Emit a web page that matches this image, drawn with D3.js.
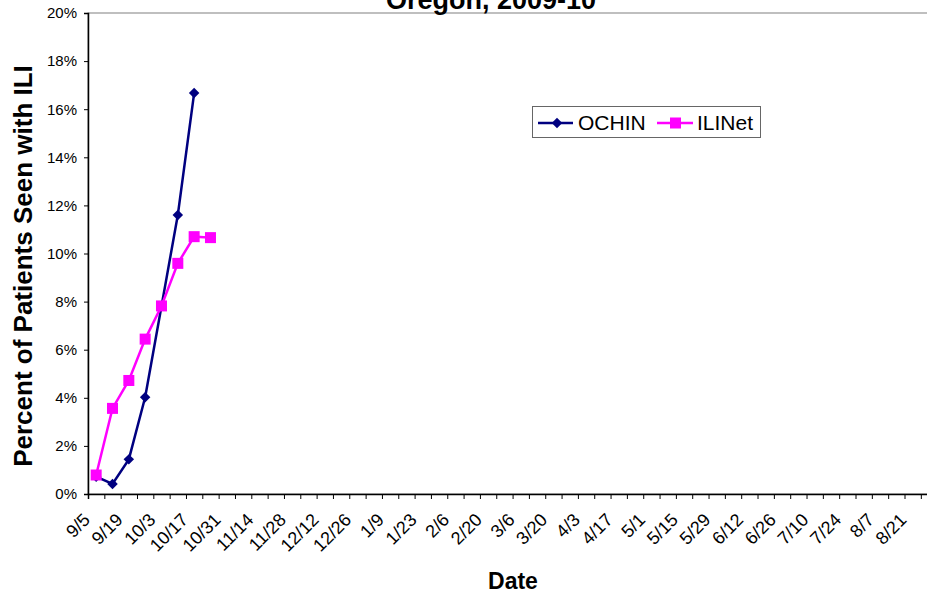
<html>
<head>
<style>
  body { margin: 0; background: #fff; }
  text { font-family: "Liberation Sans", Arial, sans-serif; }
</style>
</head>
<body>
<script src="https://d3js.org/d3.v7.min.js"></script>
<script>
// weekly categories, 2009-10 season
var weeks = ["9/5","9/12","9/19","9/26","10/3","10/10","10/17","10/24","10/31","11/7",
  "11/14","11/21","11/28","12/5","12/12","12/19","12/26","1/2","1/9","1/16",
  "1/23","1/30","2/6","2/13","2/20","2/27","3/6","3/13","3/20","3/27",
  "4/3","4/10","4/17","4/24","5/1","5/8","5/15","5/22","5/29","6/5",
  "6/12","6/19","6/26","7/3","7/10","7/17","7/24","7/31","8/7","8/14",
  "8/21","8/28"];
// percent of patients with ILI (fraction)
var ochin  = [0.0072, 0.0042, 0.0144, 0.0402, 0.0781, 0.1160, 0.1667];
var ilinet = [0.0079, 0.0356, 0.0472, 0.0644, 0.0782, 0.0959, 0.1070, 0.1066];
var yTicks = [0, 0.02, 0.04, 0.06, 0.08, 0.10, 0.12, 0.14, 0.16, 0.18, 0.20];

var w = 927, h = 597;
var plotLeft = 88, plotTop = 13, plotBottom = 494;
var bandW = 16.33;
var plotRight = plotLeft + bandW * weeks.length;

var svg = d3.select("body").append("svg")
  .attr("width", w).attr("height", h);

var x = d3.scaleBand().domain(weeks).range([plotLeft, plotRight]).padding(0);
var xTickPos = d3.scaleLinear().domain([0, weeks.length]).range([plotLeft, plotRight]);
var y = d3.scaleLinear().domain([0, 0.2]).range([plotBottom, plotTop]);

// plot frame
svg.append("rect")
  .attr("x", plotLeft).attr("y", plotTop)
  .attr("width", plotRight - plotLeft).attr("height", plotBottom - plotTop)
  .attr("fill", "none").attr("stroke", "#808080").attr("stroke-width", 1);

// y axis
var yAxis = svg.append("g")
  .attr("transform", "translate(" + plotLeft + ",0)")
  .call(d3.axisLeft(y).tickValues(yTicks).tickFormat(d3.format(".0%")).tickSize(4).tickPadding(7));
yAxis.select(".domain").attr("stroke", "#000").attr("stroke-width", 1.5);
yAxis.selectAll("text").style("font-size", "15px").attr("fill", "#000");

// x axis: ticks between categories
var xTicks = svg.append("g")
  .attr("transform", "translate(0," + plotBottom + ")")
  .call(d3.axisBottom(xTickPos).tickValues(d3.range(weeks.length + 1)).tickFormat("").tickSize(5));
xTicks.select(".domain").attr("stroke", "#000").attr("stroke-width", 1.5);

var xLabels = svg.append("g")
  .attr("transform", "translate(0," + plotBottom + ")")
  .attr("font-size", 18)
  .call(d3.axisBottom(x).tickValues(weeks.filter(function(d, i) { return i % 2 == 0; })).tickSize(0).tickPadding(0));
xLabels.select(".domain").remove();
xLabels.selectAll("text")
  .style("font-size", "18px").attr("fill", "#000")
  .attr("text-anchor", "end")
  .attr("dy", null)
  .attr("transform", "translate(-5,27) rotate(-45)");

var cx = function(d, i) { return x(weeks[i]) + x.bandwidth() / 2; };

// OCHIN
svg.append("path").datum(ochin)
  .attr("fill", "none").attr("stroke", "#000080").attr("stroke-width", 2.5)
  .attr("d", d3.line().x(cx).y(function(d) { return y(d); }));
svg.selectAll(".dia").data(ochin).enter().append("path")
  .attr("class", "dia")
  .attr("d", d3.symbol().type(d3.symbolDiamond2).size(70))
  .attr("transform", function(d, i) { return "translate(" + cx(d, i) + "," + y(d) + ")"; })
  .attr("fill", "#000080");

// ILINet
svg.append("path").datum(ilinet)
  .attr("fill", "none").attr("stroke", "#FF00FF").attr("stroke-width", 2.5)
  .attr("d", d3.line().x(cx).y(function(d) { return y(d); }));
svg.selectAll(".sq").data(ilinet).enter().append("rect")
  .attr("class", "sq")
  .attr("x", function(d, i) { return cx(d, i) - 5.5; })
  .attr("y", function(d) { return y(d) - 5.5; })
  .attr("width", 11).attr("height", 11)
  .attr("fill", "#FF00FF");

// title
svg.append("text")
  .attr("x", 491).attr("y", 9)
  .attr("text-anchor", "middle")
  .style("font-size", "27px").style("font-weight", "bold")
  .text("Oregon, 2009-10");

// axis titles
svg.append("text")
  .attr("x", 513).attr("y", 589)
  .attr("text-anchor", "middle")
  .style("font-size", "23px").style("font-weight", "bold")
  .text("Date");
svg.append("text")
  .attr("transform", "translate(32,266) rotate(-90)")
  .attr("text-anchor", "middle")
  .style("font-size", "26px").style("font-weight", "bold")
  .text("Percent of Patients Seen with ILI");

// legend
var lg = svg.append("g");
lg.append("rect")
  .attr("x", 532.5).attr("y", 106.5).attr("width", 228).attr("height", 31)
  .attr("fill", "#fff").attr("stroke", "#666").attr("stroke-width", 1);
lg.append("line").attr("x1", 538).attr("x2", 573).attr("y1", 123).attr("y2", 123)
  .attr("stroke", "#000080").attr("stroke-width", 2.5);
lg.append("path")
  .attr("d", d3.symbol().type(d3.symbolDiamond2).size(70))
  .attr("transform", "translate(557,123)").attr("fill", "#000080");
lg.append("text").attr("x", 578).attr("y", 130)
  .style("font-size", "21px").text("OCHIN");
lg.append("line").attr("x1", 657).attr("x2", 693).attr("y1", 123).attr("y2", 123)
  .attr("stroke", "#FF00FF").attr("stroke-width", 2.5);
lg.append("rect").attr("x", 670).attr("y", 117.5).attr("width", 11).attr("height", 11)
  .attr("fill", "#FF00FF");
lg.append("text").attr("x", 697).attr("y", 130)
  .style("font-size", "21px").text("ILINet");
</script>
</body>
</html>
